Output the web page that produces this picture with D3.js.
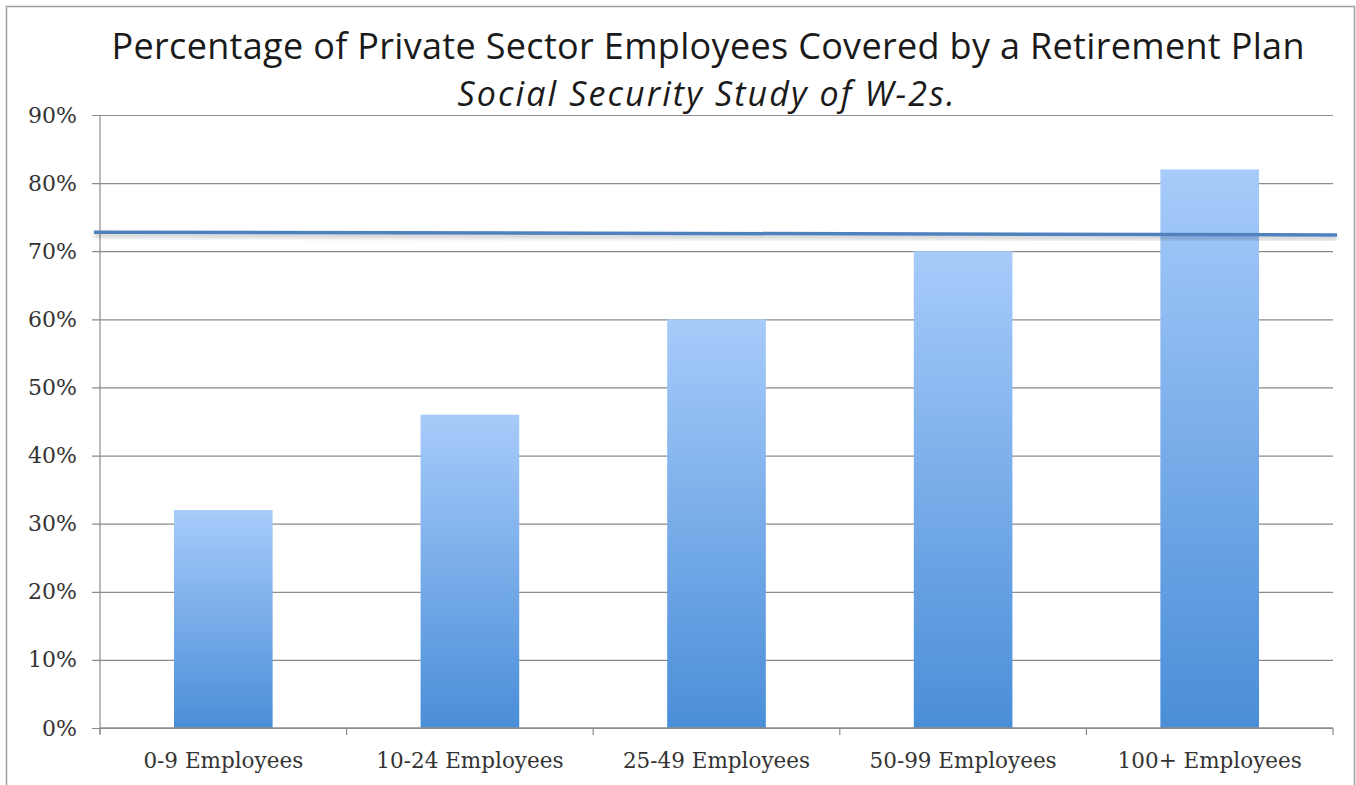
<!DOCTYPE html>
<html>
<head>
<meta charset="utf-8">
<script src="https://cdn.jsdelivr.net/npm/d3@7"></script>
<style>
  html, body { margin: 0; padding: 0; background: #fff; }
</style>
</head>
<body>
<div id="chart"></div>
<script>
"use strict";

// data
const categories = ["0-9 Employees", "10-24 Employees", "25-49 Employees", "50-99 Employees", "100+ Employees"];
const coverage = [32, 46, 60, 70, 82];
const yTicks = [0, 10, 20, 30, 40, 50, 60, 70, 80, 90];
// the average line, a touch higher on the left than on the right
const avgLine = [72.8, 72.4];

const titleText = "Percentage of Private Sector Employees Covered by a Retirement Plan";
const subtitleText = "Social Security Study of W-2s.";

const W = 1356, H = 785;
const margin = { left: 100, right: 23, top: 115, bottom: 57 };

let svg = d3.select("#chart")
    .append("svg")
    .attr("width", W)
    .attr("height", H);

// gradient for the bars, light on top, darker at the foot
let defs = svg.append("defs");
let grad = defs.append("linearGradient")
    .attr("id", "barGrad")
    .attr("x1", 0).attr("y1", 0)
    .attr("x2", 0).attr("y2", 1);
grad.append("stop").attr("offset", "0%").attr("stop-color", "#a7cbfa");
grad.append("stop").attr("offset", "100%").attr("stop-color", "#4a8ed8");

let shadow = defs.append("filter").attr("id", "lineShadow")
    .attr("x", "-5%").attr("y", "-200%").attr("width", "110%").attr("height", "500%");
shadow.append("feGaussianBlur").attr("in", "SourceAlpha").attr("stdDeviation", 2).attr("result", "blur");
shadow.append("feOffset").attr("dy", 3).attr("result", "off");
shadow.append("feComponentTransfer").append("feFuncA").attr("type", "linear").attr("slope", 0.25);
let merge = shadow.append("feMerge");
merge.append("feMergeNode");
merge.append("feMergeNode").attr("in", "SourceGraphic");

// outer frame
svg.append("path")
    .attr("d", `M6.5,${H} V6.5 H${W - 1.5} V${H}`)
    .attr("fill", "none")
    .attr("stroke", "#a0a0a0")
    .attr("stroke-width", 1.5);

let x = d3.scaleBand()
    .domain(categories)
    .range([margin.left, W - margin.right])
    .paddingInner(0.6)
    .paddingOuter(0.3);

let xEdge = d3.scalePoint()
    .domain(d3.range(categories.length + 1))
    .range([margin.left, W - margin.right]);

let y = d3.scaleLinear()
    .domain([0, 90])
    .range([H - margin.bottom, margin.top]);

// gridlines and left ticks
let yAxis = d3.axisLeft(y)
    .tickValues(yTicks)
    .tickFormat(d => d + "%")
    .tickSize(-(W - margin.left - margin.right))
    .tickPadding(23);

let gy = svg.append("g")
    .attr("transform", `translate(${margin.left},0)`)
    .call(yAxis);
gy.select(".domain").remove();
gy.selectAll(".tick line")
    .attr("x1", -8)
    .attr("stroke", "#8c8c8c")
    .attr("stroke-width", 1.2);
gy.selectAll(".tick text")
    .attr("font-family", "'DejaVu Serif', serif")
    .attr("font-size", 22)
    .attr("fill", "#333");

// vertical axis line
svg.append("line")
    .attr("x1", margin.left).attr("x2", margin.left)
    .attr("y1", y(90)).attr("y2", y(0) + 6)
    .attr("stroke", "#8c8c8c")
    .attr("stroke-width", 1.2);

// bars
svg.append("g")
    .selectAll("rect")
    .data(coverage)
    .join("rect")
    .attr("x", (d, i) => x(categories[i]))
    .attr("y", d => y(d))
    .attr("width", x.bandwidth())
    .attr("height", d => y(0) - y(d))
    .attr("fill", "url(#barGrad)");

// category axis with ticks at the edges of each band
svg.append("line")
    .attr("x1", margin.left).attr("x2", W - margin.right)
    .attr("y1", y(0)).attr("y2", y(0))
    .attr("stroke", "#8c8c8c")
    .attr("stroke-width", 1.5);

svg.append("g")
    .selectAll("line")
    .data(xEdge.domain())
    .join("line")
    .attr("x1", d => xEdge(d)).attr("x2", d => xEdge(d))
    .attr("y1", y(0)).attr("y2", y(0) + 7)
    .attr("stroke", "#8c8c8c")
    .attr("stroke-width", 1.2);

svg.append("g")
    .selectAll("text")
    .data(categories)
    .join("text")
    .attr("x", d => x(d) + x.bandwidth() / 2)
    .attr("y", y(0) + 40)
    .attr("text-anchor", "middle")
    .attr("font-family", "'DejaVu Serif', serif")
    .attr("font-size", 21.5)
    .attr("fill", "#333")
    .text(d => d);

// the average line across the chart
let lineX = d3.scaleLinear().domain([0, 1]).range([margin.left - 6, W - margin.right + 4]);
svg.append("line")
    .attr("x1", lineX(0)).attr("x2", lineX(1))
    .attr("y1", y(avgLine[0])).attr("y2", y(avgLine[1]))
    .attr("stroke", "#4f81bd")
    .attr("stroke-width", 3.5)
    .attr("filter", "url(#lineShadow)");

// titles
svg.append("text")
    .attr("x", 708)
    .attr("y", 59)
    .attr("text-anchor", "middle")
    .attr("font-family", "'Open Sans', Lato, sans-serif")
    .attr("font-size", 36)
    .attr("textLength", 1193)
    .attr("lengthAdjust", "spacing")
    .attr("fill", "#1a1a1a")
    .text(titleText);

svg.append("text")
    .attr("x", 706)
    .attr("y", 106)
    .attr("text-anchor", "middle")
    .attr("font-family", "'Open Sans', Lato, sans-serif")
    .attr("font-style", "italic")
    .attr("font-size", 34)
    .attr("textLength", 497)
    .attr("lengthAdjust", "spacing")
    .attr("fill", "#1a1a1a")
    .text(subtitleText);
</script>
</body>
</html>
